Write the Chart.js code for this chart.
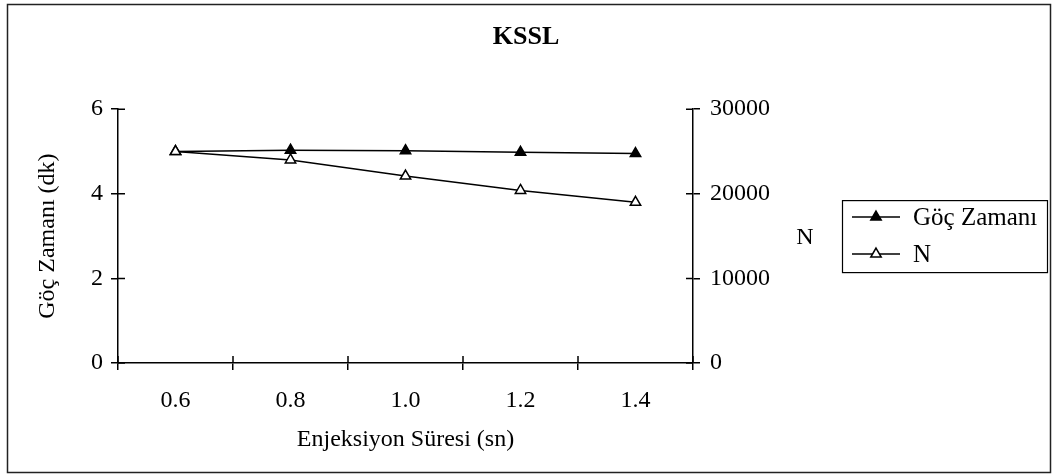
<!DOCTYPE html>
<html>
<head>
<meta charset="utf-8">
<script src="https://cdn.jsdelivr.net/npm/chart.js@4"></script>
<style>
html, body { margin: 0; padding: 0; background: #fff; }
#wrap { width: 1052px; height: 476px; }
</style>
</head>
<body>
<div id="wrap"><canvas id="chartCanvas"></canvas></div>
<script>
const sureler = ['0.6', '0.8', '1.0', '1.2', '1.4'];
const gocZamani = [5.0, 5.03, 5.02, 4.98, 4.95];
const nDegeri = [25000, 24000, 22100, 20400, 19000];
const solTikler = [0, 2, 4, 6];
const sagTikler = [0, 10000, 20000, 30000];

const yazi = "'Liberation Serif', 'Times New Roman', serif";
Chart.defaults.font.family = yazi;
Chart.defaults.font.size = 24;
Chart.defaults.color = '#000';

// ucgen isaret (legend icin)
function ucgen(ctx, x, y, r) {
    ctx.beginPath();
    ctx.moveTo(x, y - r);
    ctx.lineTo(x + r * 0.866, y + r * 0.5);
    ctx.lineTo(x - r * 0.866, y + r * 0.5);
    ctx.closePath();
    ctx.fill();
    ctx.stroke();
}

const cerceve = {
    id: 'cerceve',
    beforeDraw(chart) {
        const ctx = chart.ctx;
        ctx.save();
        ctx.fillStyle = '#fff';
        ctx.fillRect(0, 0, chart.width, chart.height);
        ctx.strokeStyle = '#222';
        ctx.lineWidth = 1.5;
        ctx.strokeRect(7.5, 4.5, chart.width - 9, chart.height - 8);
        ctx.restore();
    },
    afterDraw(chart) {
        const ctx = chart.ctx;
        const a = chart.chartArea;
        const x = chart.scales.x, y = chart.scales.y, y1 = chart.scales.y1;
        ctx.save();
        ctx.strokeStyle = '#000';
        ctx.lineWidth = 1.5;
        // iceri dogru tik parcalari
        ctx.beginPath();
        y.ticks.forEach((t, i) => {
            const p = y.getPixelForTick(i);
            ctx.moveTo(a.left, p); ctx.lineTo(a.left + 7, p);
        });
        y1.ticks.forEach((t, i) => {
            const p = y1.getPixelForTick(i);
            ctx.moveTo(a.right, p); ctx.lineTo(a.right - 7, p);
        });
        const adim = (x.right - x.left) / sureler.length;
        for (let k = 0; k <= sureler.length; k++) {
            const p = x.left + k * adim;
            ctx.moveTo(p, a.bottom); ctx.lineTo(p, a.bottom - 7);
        }
        ctx.stroke();

        // sag eksen basligi
        const ortaY = (a.top + a.bottom) / 2;
        ctx.fillStyle = '#000';
        ctx.font = '24px ' + yazi;
        ctx.textAlign = 'center';
        ctx.textBaseline = 'middle';
        ctx.fillText('N', a.right + 112, ortaY + 2);

        // legend kutusu
        const bw = 205, bh = 72;
        const bx = a.right + 149, by = ortaY - bh / 2;
        ctx.lineWidth = 1.2;
        ctx.strokeRect(bx + 0.5, by + 0.5, bw, bh);
        ctx.textAlign = 'left';
        ctx.font = '25px ' + yazi;
        chart.data.datasets.forEach((ds, i) => {
            const ry = by + 17 + i * 37;
            ctx.strokeStyle = '#000';
            ctx.lineWidth = 1.5;
            ctx.beginPath();
            ctx.moveTo(bx + 10, ry); ctx.lineTo(bx + 58, ry);
            ctx.stroke();
            ctx.fillStyle = ds.pointBackgroundColor;
            ucgen(ctx, bx + 34, ry, 6);
            ctx.fillStyle = '#000';
            ctx.fillText(ds.label, bx + 71, ry + 1);
        });
        ctx.restore();
    }
};

new Chart(document.getElementById('chartCanvas'), {
    type: 'line',
    data: {
        labels: sureler,
        datasets: [{
            label: 'Göç Zamanı',
            data: gocZamani,
            yAxisID: 'y',
            borderColor: '#000',
            borderWidth: 1.5,
            pointStyle: 'triangle',
            pointRadius: 6,
            pointBackgroundColor: '#000',
            pointBorderColor: '#000',
            pointBorderWidth: 1.5,
            order: 2
        }, {
            label: 'N',
            data: nDegeri,
            yAxisID: 'y1',
            borderColor: '#000',
            borderWidth: 1.5,
            pointStyle: 'triangle',
            pointRadius: 6,
            pointBackgroundColor: '#fff',
            pointBorderColor: '#000',
            pointBorderWidth: 1.5,
            order: 1
        }]
    },
    options: {
        responsive: true,
        maintainAspectRatio: false,
        animation: false,
        layout: { padding: { left: 20, right: 20, top: 0, bottom: 18 } },
        plugins: {
            legend: { display: false },
            tooltip: { enabled: false },
            title: {
                display: true,
                text: 'KSSL',
                color: '#000',
                font: { size: 26, weight: 'bold' },
                padding: { top: 22, bottom: 56 }
            }
        },
        scales: {
            x: {
                type: 'category',
                offset: true,
                grid: { offset: true, drawOnChartArea: false, color: '#000', lineWidth: 1.5, tickLength: 7 },
                border: { color: '#000', width: 1.5 },
                ticks: { padding: 16, maxRotation: 0 },
                title: { display: true, text: 'Enjeksiyon Süresi (sn)', padding: { top: 0, bottom: 4 } },
                afterFit(s) { s.height = 95; }
            },
            y: {
                position: 'left',
                min: 0, max: 6,
                afterBuildTicks(s) { s.ticks = solTikler.map(v => ({ value: v })); },
                grid: { drawOnChartArea: false, color: '#000', lineWidth: 1.5, tickLength: 7 },
                border: { color: '#000', width: 1.5 },
                ticks: { padding: 8 },
                title: { display: true, text: 'Göç Zamanı (dk)', padding: { top: 13, bottom: 0 } },
                afterFit(s) { s.width = 98; }
            },
            y1: {
                position: 'right',
                min: 0, max: 30000,
                afterBuildTicks(s) { s.ticks = sagTikler.map(v => ({ value: v })); },
                grid: { drawOnChartArea: false, color: '#000', lineWidth: 1.5, tickLength: 7 },
                border: { color: '#000', width: 1.5 },
                ticks: { padding: 10, callback: v => String(v) },
                afterFit(s) { s.width = 339; }
            }
        }
    },
    plugins: [cerceve]
});
</script>
</body>
</html>
